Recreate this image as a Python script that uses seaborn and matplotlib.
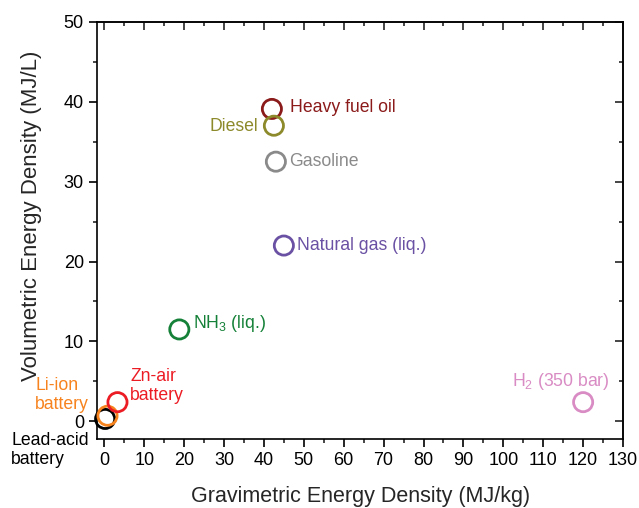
import matplotlib
matplotlib.use("Agg")
import matplotlib.pyplot as plt
import seaborn as sns
import pandas as pd
from matplotlib.ticker import MultipleLocator

fuels = ["Lead-acid battery", "Li-ion battery", "Zn-air battery", "NH3 (liq.)",
         "Natural gas (liq.)", "Gasoline", "Heavy fuel oil", "Diesel", "H2 (350 bar)"]
gravimetric = [0.2, 0.8, 3.3, 18.8, 45.0, 43.0, 42.0, 42.5, 120.0]
volumetric = [0.3, 0.7, 2.4, 11.5, 22.0, 32.5, 39.1, 37.0, 2.4]
colors = ["#000000", "#F7831E", "#EC1C24", "#158138", "#6A51A3",
          "#8A8A8A", "#8B1A1A", "#8C8A2B", "#D98CC4"]
labels = ["Lead-acid\nbattery", "Li-ion\nbattery", "Zn-air\nbattery", r"NH$_3$ (liq.)",
          "Natural gas (liq.)", "Gasoline", "Heavy fuel oil", "Diesel", r"H$_2$ (350 bar)"]

sns.set_style("ticks")
plt.rcParams["font.family"] = ["Liberation Sans", "DejaVu Sans"]
plt.rcParams["mathtext.fontset"] = "custom"
plt.rcParams["mathtext.rm"] = "Liberation Sans"
plt.rcParams["mathtext.it"] = "Liberation Sans"

df = pd.DataFrame({"fuel": fuels, "grav": gravimetric, "vol": volumetric})

fig = plt.figure(figsize=(6.39, 5.08), dpi=100)
ax = fig.add_axes([0.152, 0.136, 0.823, 0.821])

sns.scatterplot(data=df, x="grav", y="vol", hue="fuel", palette=colors,
                s=190, linewidth=2.0, legend=False, ax=ax, zorder=3, clip_on=False)
coll = ax.collections[0]
fc = coll.get_facecolors()
coll.set_edgecolors(fc)
coll.set_facecolors("none")

ax.set_xlim(-1.8, 130)
ax.set_ylim(-2.2, 50)

pos = {
    "Lead-acid battery": (-23.3, -3.6, "left"),
    "Li-ion battery": (-17.3, 3.3, "left"),
    "Zn-air battery": (6.5, 4.4, "left"),
    "NH3 (liq.)": (22.3, 12.3, "left"),
    "Natural gas (liq.)": (48.4, 22.0, "left"),
    "Gasoline": (46.4, 32.5, "left"),
    "Heavy fuel oil": (46.6, 39.25, "left"),
    "Diesel": (38.6, 36.9, "right"),
    "H2 (350 bar)": (114.3, 5.0, "center"),
}
for f, lab, c in zip(fuels, labels, colors):
    x, y, ha = pos[f]
    ax.text(x, y, lab, color=c, fontsize=12.7, ha=ha, va="center",
            linespacing=1.15, clip_on=False)

ax.set_xlabel("Gravimetric Energy Density (MJ/kg)", fontsize=15.5, labelpad=12)
ax.set_ylabel("Volumetric Energy Density (MJ/L)", fontsize=16)
ax.yaxis.set_label_coords(-0.105, 0.535)

ax.xaxis.set_major_locator(MultipleLocator(10))
ax.xaxis.set_minor_locator(MultipleLocator(5))
ax.yaxis.set_major_locator(MultipleLocator(10))
ax.yaxis.set_minor_locator(MultipleLocator(5))
ax.tick_params(which="major", direction="out", length=6, width=1.2, labelsize=13, colors="black")
ax.tick_params(which="minor", direction="out", length=3, width=1.2)

for s in ax.spines.values():
    s.set_visible(True)
    s.set_linewidth(1.2)
    s.set_color("black")

secx = ax.secondary_xaxis("top")
secx.xaxis.set_major_locator(MultipleLocator(10))
secx.xaxis.set_minor_locator(MultipleLocator(5))
secx.tick_params(which="major", direction="in", length=6, width=1.2, labeltop=False)
secx.tick_params(which="minor", direction="in", length=3, width=1.2)
secx.spines["top"].set_linewidth(1.2)
secy = ax.secondary_yaxis("right")
secy.yaxis.set_major_locator(MultipleLocator(10))
secy.yaxis.set_minor_locator(MultipleLocator(5))
secy.tick_params(which="major", direction="in", length=6, width=1.2, labelright=False)
secy.tick_params(which="minor", direction="in", length=3, width=1.2)
secy.spines["right"].set_linewidth(1.2)

fig.savefig("out.png", dpi=100)
